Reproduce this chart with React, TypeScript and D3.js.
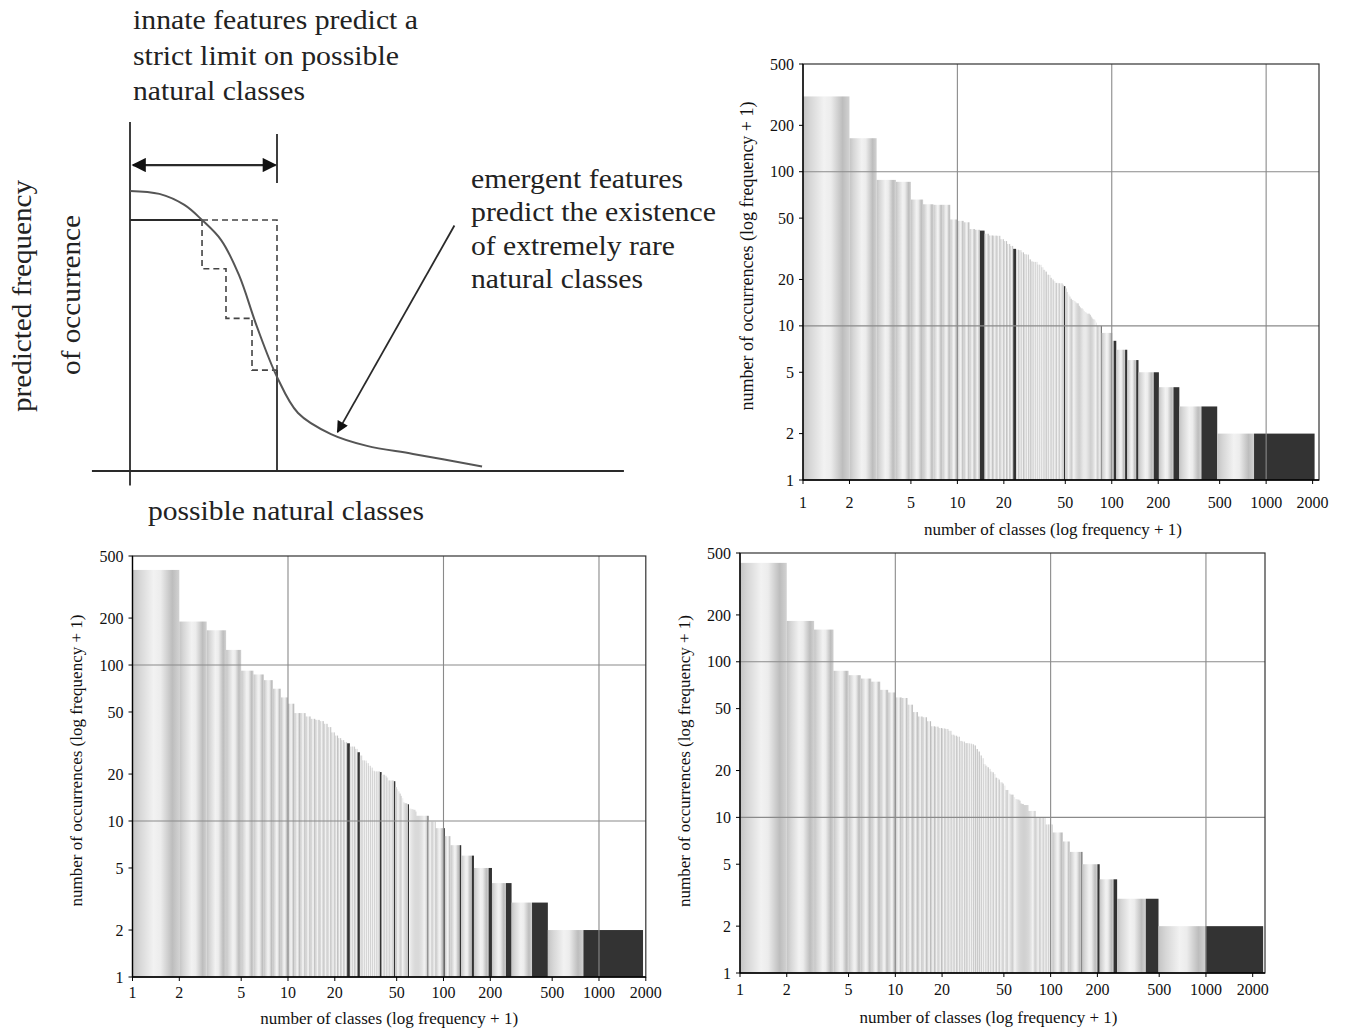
import React from 'react'
import * as d3 from 'd3'

const FONT = '"Liberation Serif", "Times New Roman", serif'

const xTicks = [1, 2, 5, 10, 20, 50, 100, 200, 500, 1000, 2000]
const yTicks = [1, 2, 5, 10, 20, 50, 100, 200, 500]
const gridX = [10, 100, 1000]
const gridY = [10, 100]

// top right: occurrences per class rank (one bar per rank), then grouped tail
const trHeights = [308, 165, 88.5, 86, 66, 61.5, 61, 61, 49, 48,
  47, 42.5, 42, 41.5, 39.6, 38.6, 38.5, 38.4, 36.5, 35.5,
  34, 33, 31.6, 31.2, 31, 30, 29.2, 29, 27, 26.2,
  26, 26, 25, 24.9, 24, 23.1, 22.5, 21.5, 21.4, 20.5,
  20, 19.5, 19, 19, 18.9, 18.9, 18.9, 18.5, 18.1, 17.5,
  16.6, 16, 15.5, 15, 14.7, 14.7, 14.5, 14.2, 14, 14,
  13.5, 13.2, 13, 13, 12.8, 12.5, 12.3, 12.2, 12, 12,
  12, 11.8, 11.5, 11.3, 11.1, 11, 11, 10.8, 10.5, 10,
  10, 10, 10, 10, 10]
const trDark = [14, 23, 49, 85]
const trTailStart = [86, 101, 107, 126, 149, 202, 274, 482]
const trTailValue = [9, 8, 7, 6, 5, 4, 3, 2]
const trTailDark = [null, 103, 122, 144, 187, 251, 381, 835]
const trEnd = 2060

// bottom left
const blHeights = [407, 190, 167, 125, 92, 87, 80, 70.5, 62, 56.5,
  49.2, 49.2, 46.8, 45.2, 44.5, 43.7, 42, 40, 37, 35.3,
  34, 33, 32, 31.5, 30, 30, 29, 27.6, 26.3, 24.5,
  24.4, 23.5, 22.6, 22, 21, 20.8, 20.8, 20.8, 20.6, 19.8,
  19.8, 19.5, 19, 18.2, 18.2, 18.2, 18.2, 18, 16.5, 16,
  15.5, 15, 14.5, 14, 13.2, 13, 13, 12.9, 12.8, 12,
  12, 11.9, 11.9, 11.8, 11.8, 11.5, 10.8, 10.8, 10.8, 10.8,
  10.8, 10.8, 10.8, 10.8, 10.8, 10.8, 10.8, 10.8, 10.8, 9.9,
  9.9, 9.9, 9.9, 9.9, 9.9, 9.9, 9.9, 9.9]
const blDark = [24, 28, 39, 48, 59, 79]
const blTailStart = [89, 102, 111, 130, 157, 205, 274, 469]
const blTailValue = [9, 8, 7, 6, 5, 4, 3, 2]
const blTailDark = [100, null, 127, 152, 195, 252, 371, 794]
const blEnd = 1920

// bottom right
const brHeights = [432, 183, 161, 87.5, 82, 78, 74.5, 66, 63.5, 59,
  58.5, 53, 47.5, 44.5, 44, 41.5, 38.5, 38.3, 37.5, 37.3,
  37, 36, 34, 33.5, 33, 31, 30.7, 30, 30, 29.8,
  29.5, 29, 27.5, 26.5, 25, 24, 22, 21.5, 21, 20.5,
  19.7, 19.5, 19, 18, 17.9, 17.5, 16.8, 16.8, 16.5, 16,
  15, 15, 15, 14.2, 14, 14, 14, 13.5, 13.1, 13.1,
  13, 13, 12.8, 12.3, 12.2, 12.2, 12, 12, 12, 12,
  12, 11, 11, 11, 11, 11, 11, 11, 11, 10,
  10, 10, 10, 10, 10, 10, 10, 10, 10, 10,
  10, 10, 9, 9, 9, 9, 9, 9, 9, 9,
  9, 9]
const brDark: number[] = []
const brTailStart = [103, 120, 133, 160, 207, 268, 495]
const brTailValue = [8, 7, 6, 5, 4, 3, 2]
const brTailDark = [null, null, 158, 200, 254, 410, 994]
const brEnd = 2335

// schematic (arbitrary units: x 1 = strict limit, y 1 = plateau)
const curveX = [0, 0.2, 0.37, 0.49, 0.62, 0.741, 0.864, 1.0, 1.143, 1.367, 1.612, 1.925, 2.395]
const curveY = [1.116, 1.104, 1.06, 1.0, 0.92, 0.781, 0.574, 0.375, 0.231, 0.147, 0.1, 0.068, 0.018]
const stepX = [0.49, 0.653, 0.83, 1.0]
const stepY = [1.0, 0.806, 0.608, 0.402]

type PanelProps = {
  heights: number[], dark: number[], tailStart: number[], tailValue: number[],
  tailDark: (number | null)[], end: number,
  left: number, right: number, top: number, bottom: number, xMax: number,
  labelGap: number, xTitleGap: number, xTitleShift: number, yTitleShift: number, yTitleSize: number
}

function Panel(p: PanelProps) {
  const x = d3.scaleLog().domain([1, p.xMax]).range([p.left, p.right])
  const y = d3.scaleLog().domain([1, 500]).range([p.bottom, p.top])

  const bars: { x0: number, x1: number, v: number, dark: boolean }[] = p.heights.map((v, i) => ({
    x0: i + 1, x1: i + 2, v, dark: p.dark.includes(i + 1)
  }))
  p.tailStart.forEach((s, i) => {
    const e = i + 1 < p.tailStart.length ? p.tailStart[i + 1] : p.end
    const d = p.tailDark[i]
    const v = p.tailValue[i]
    if (d) {
      bars.push({ x0: s, x1: d, v, dark: false })
      bars.push({ x0: d, x1: e, v, dark: true })
    } else {
      bars.push({ x0: s, x1: e, v, dark: false })
    }
  })

  const midX = (p.left + p.right) / 2
  const midY = (p.top + p.bottom) / 2

  return (
    <g fontFamily={FONT}>
      {bars.map((b, i) => (
        <rect key={i} x={x(b.x0)} width={Math.max(0, x(b.x1) - x(b.x0))}
          y={y(b.v)} height={y(1) - y(b.v)}
          fill={b.dark ? '#333333' : 'url(#barGrad)'} />
      ))}
      {gridX.map(t => (
        <line key={'gx' + t} x1={x(t)} x2={x(t)} y1={p.top} y2={p.bottom} stroke="#8a8a8a" strokeWidth={1.1} />
      ))}
      {gridY.map(t => (
        <line key={'gy' + t} x1={p.left} x2={p.right} y1={y(t)} y2={y(t)} stroke="#8a8a8a" strokeWidth={1.1} />
      ))}
      <rect x={p.left} y={p.top} width={p.right - p.left} height={p.bottom - p.top} fill="none" stroke="#333" strokeWidth={1.2} />
      <line x1={p.left} x2={p.left} y1={p.top} y2={p.bottom} stroke="#000" strokeWidth={1.3} />
      <line x1={p.left} x2={p.right} y1={p.bottom} y2={p.bottom} stroke="#000" strokeWidth={1.3} />
      {yTicks.map(t => (
        <g key={'yt' + t}>
          <line x1={p.left - 4} x2={p.left} y1={y(t)} y2={y(t)} stroke="#000" />
          <text x={p.left - 9} y={y(t)} dy="0.35em" textAnchor="end" fontSize={16} fill="#111">{t}</text>
        </g>
      ))}
      {xTicks.map(t => (
        <g key={'xt' + t}>
          <line x1={x(t)} x2={x(t)} y1={p.bottom} y2={p.bottom + 4} stroke="#000" />
          <text x={x(t)} y={p.bottom + p.labelGap} dy="0.35em" textAnchor="middle" fontSize={16} fill="#111">{t}</text>
        </g>
      ))}
      <text x={midX + p.xTitleShift} y={p.bottom + p.xTitleGap} dy="0.35em" textAnchor="middle" fontSize={17} fill="#111">
        number of classes (log frequency + 1)
      </text>
      <text transform={`translate(${p.left - 56},${midY + p.yTitleShift}) rotate(-90)`} dy="0.35em" textAnchor="middle"
        fontSize={p.yTitleSize} fill="#111">
        number of occurrences (log frequency + 1)
      </text>
    </g>
  )
}

function Schematic() {
  const sx = d3.scaleLinear().domain([0, 1]).range([130, 277])
  const sy = d3.scaleLinear().domain([0, 1]).range([471, 220])
  const pts = curveX.map((v, i) => [v, curveY[i]] as [number, number])
  const curve = d3.line<[number, number]>().x(d => sx(d[0])).y(d => sy(d[1])).curve(d3.curveCatmullRom.alpha(0.5))(pts) || ''
  const stairs = d3.line<[number, number]>().x(d => sx(d[0])).y(d => sy(d[1])).curve(d3.curveStepBefore)(
    stepX.map((v, i) => [v, stepY[i]] as [number, number])) || ''
  const box = d3.line<[number, number]>().x(d => sx(d[0])).y(d => sy(d[1]))(
    [[stepX[0], stepY[0]], [1, stepY[0]], [1, stepY[stepY.length - 1]]]) || ''
  const ink = '#2a2a2a'
  return (
    <g fontFamily={FONT} fill="#222">
      <line x1={sx(0)} x2={sx(0)} y1={sy(-0.058)} y2={sy(1.39)} stroke={ink} strokeWidth={1.8} />
      <line x1={sx(-0.259)} x2={sx(3.36)} y1={sy(0)} y2={sy(0)} stroke={ink} strokeWidth={1.8} />
      <line x1={sx(1)} x2={sx(1)} y1={sy(0)} y2={sy(stepY[stepY.length - 1])} stroke={ink} strokeWidth={1.8} />
      <line x1={sx(1)} x2={sx(1)} y1={sy(1.147)} y2={sy(1.343)} stroke={ink} strokeWidth={1.8} />
      <line x1={sx(0)} x2={sx(stepX[0])} y1={sy(1)} y2={sy(1)} stroke={ink} strokeWidth={1.8} />
      <path d={stairs} fill="none" stroke="#444" strokeWidth={1.6} strokeDasharray="6,4" />
      <path d={box} fill="none" stroke="#444" strokeWidth={1.6} strokeDasharray="6,4" />
      <path d={curve} fill="none" stroke="#555" strokeWidth={2} />
      <line x1={sx(0.02)} x2={sx(0.99)} y1={sy(1.219)} y2={sy(1.219)} stroke={ink} strokeWidth={2.2}
        markerStart="url(#headStart)" markerEnd="url(#headEnd)" />
      <line x1={sx(2.207)} x2={sx(1.412)} y1={sy(0.978)} y2={sy(0.155)} stroke={ink} strokeWidth={1.8}
        markerEnd="url(#headEnd)" />
      <g fontSize={28}>
        <text x={133} y={29} textLength={285} lengthAdjust="spacingAndGlyphs">innate features predict a</text>
        <text x={133} y={65} textLength={266} lengthAdjust="spacingAndGlyphs">strict limit on possible</text>
        <text x={133} y={100} textLength={172} lengthAdjust="spacingAndGlyphs">natural classes</text>
        <text x={471} y={188} textLength={212} lengthAdjust="spacingAndGlyphs">emergent features</text>
        <text x={471} y={221} textLength={245} lengthAdjust="spacingAndGlyphs">predict the existence</text>
        <text x={471} y={255} textLength={204} lengthAdjust="spacingAndGlyphs">of extremely rare</text>
        <text x={471} y={288} textLength={172} lengthAdjust="spacingAndGlyphs">natural classes</text>
        <text x={148} y={520} textLength={276} lengthAdjust="spacingAndGlyphs">possible natural classes</text>
        <text transform="translate(31,412) rotate(-90)" textLength={232} lengthAdjust="spacingAndGlyphs">predicted frequency</text>
        <text transform="translate(80,375) rotate(-90)" textLength={160} lengthAdjust="spacingAndGlyphs">of occurrence</text>
      </g>
    </g>
  )
}

export default function App() {
  return (
    <svg width={1347} height={1030} style={{ position: 'absolute', left: 0, top: 0, background: '#fff' }}>
      <defs>
        <linearGradient id="barGrad" x1="0" x2="1" y1="0" y2="0">
          <stop offset="0" stopColor="#c4c4c4" />
          <stop offset="0.15" stopColor="#d6d6d6" />
          <stop offset="0.45" stopColor="#f2f2f2" />
          <stop offset="0.6" stopColor="#ececec" />
          <stop offset="0.85" stopColor="#bdbdbd" />
          <stop offset="1" stopColor="#d2d2d2" />
        </linearGradient>
        <marker id="headEnd" viewBox="0 0 10 10" refX="9" refY="5" markerWidth="7.5" markerHeight="6.5"
          orient="auto" markerUnits="strokeWidth">
          <path d="M0,0 L10,5 L0,10 z" fill="#111" />
        </marker>
        <marker id="headStart" viewBox="0 0 10 10" refX="1" refY="5" markerWidth="7.5" markerHeight="6.5"
          orient="auto" markerUnits="strokeWidth">
          <path d="M10,0 L0,5 L10,10 z" fill="#111" />
        </marker>
      </defs>
      <Schematic />
      <Panel heights={trHeights} dark={trDark} tailStart={trTailStart} tailValue={trTailValue} tailDark={trTailDark}
        end={trEnd} left={803} right={1319} top={64} bottom={480} xMax={2200}
        labelGap={22} xTitleGap={49} xTitleShift={-8} yTitleShift={-16} yTitleSize={18} />
      <Panel heights={blHeights} dark={blDark} tailStart={blTailStart} tailValue={blTailValue} tailDark={blTailDark}
        end={blEnd} left={132.5} right={645.8} top={556} bottom={977} xMax={2000}
        labelGap={15} xTitleGap={41} xTitleShift={0} yTitleShift={-6} yTitleSize={17} />
      <Panel heights={brHeights} dark={brDark} tailStart={brTailStart} tailValue={brTailValue} tailDark={brTailDark}
        end={brEnd} left={740} right={1265} top={553} bottom={973} xMax={2400}
        labelGap={16} xTitleGap={44} xTitleShift={-14} yTitleShift={-2} yTitleSize={17} />
    </svg>
  )
}
